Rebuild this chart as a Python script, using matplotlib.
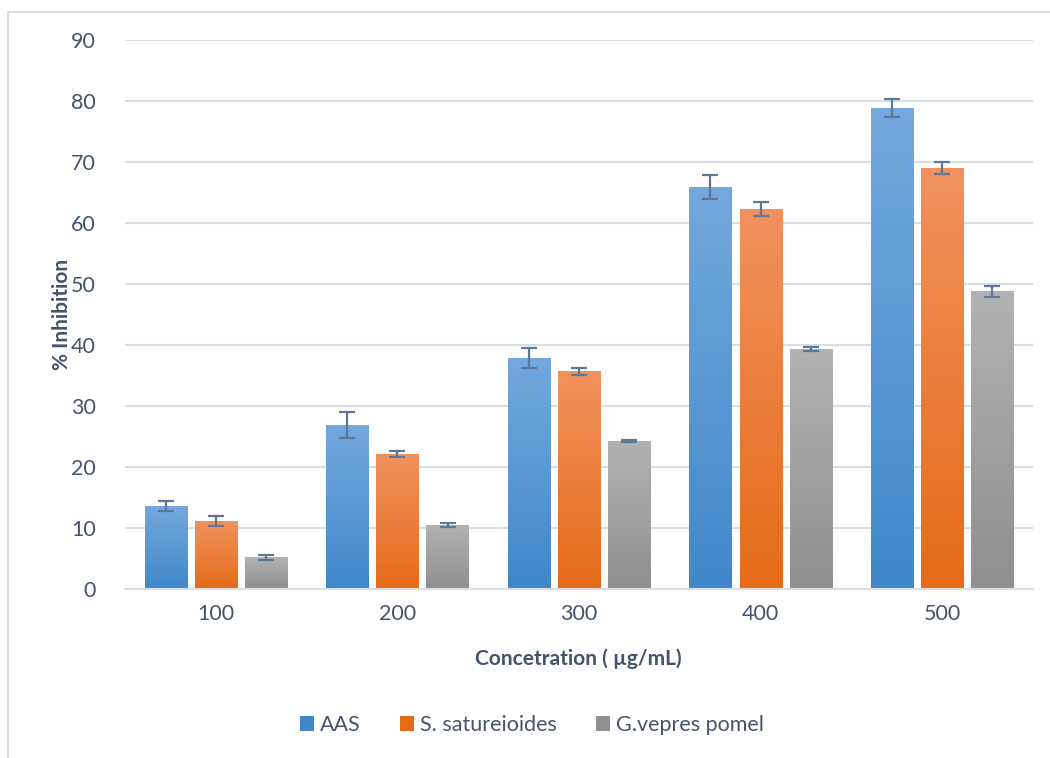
import matplotlib.pyplot as plt
import matplotlib.patches as mpatches
import numpy as np
from matplotlib.colors import LinearSegmentedColormap

# --- data ---
concentrations = ["100", "200", "300", "400", "500"]
series_names = ["AAS", "S. satureioides", "G.vepres pomel"]
aas = [13.6, 26.9, 37.9, 65.9, 78.9]
aas_err = [0.8, 2.1, 1.6, 1.9, 1.5]
sat = [11.1, 22.1, 35.7, 62.3, 69.0]
sat_err = [0.8, 0.5, 0.6, 1.1, 0.95]
gve = [5.2, 10.5, 24.3, 39.3, 48.8]
gve_err = [0.4, 0.4, 0.2, 0.3, 0.85]

# gradient top -> bottom per series
grads = [("#74A8DE", "#4088CA"), ("#F1925E", "#E56B18"), ("#B2B2B2", "#8F8F8F")]
text_col = "#44546A"
err_col = "#5E7797"

plt.rcParams['font.family'] = ['Lato', 'DejaVu Sans']

fig = plt.figure(figsize=(10.5, 7.58), dpi=100)
fig.patch.set_facecolor("white")
# outer chart frame (only left/top visible in the crop)
fig.add_artist(mpatches.Rectangle((8 / 1050, -0.1), 1.2, (758 - 12) / 758 + 0.1,
                                  transform=fig.transFigure, fill=False,
                                  edgecolor="#D9DEE5", lw=1.5))

ax = fig.add_axes([125 / 1050, 1 - 589 / 758, (1033 - 125) / 1050, (589 - 40) / 758])
x = np.arange(len(concentrations))
width = 0.232
step = 0.276

for i, (vals, errs) in enumerate([(aas, aas_err), (sat, sat_err), (gve, gve_err)]):
    pos = x + (i - 1) * step
    bars = ax.bar(pos, vals, width, color=grads[i][0], edgecolor="none", zorder=2,
                  label=series_names[i])
    cmap = LinearSegmentedColormap.from_list("g%d" % i, [grads[i][1], grads[i][0]])
    for b in bars:
        bx, by = b.get_x(), b.get_y()
        bw, bh = b.get_width(), b.get_height()
        im = ax.imshow(np.linspace(0, 1, 100).reshape(-1, 1), cmap=cmap, aspect="auto",
                       origin="lower", extent=[bx, bx + bw, by, by + bh], zorder=2.5)
        im.set_clip_path(b)
    ax.errorbar(pos, vals, yerr=errs, fmt="none", ecolor=err_col, elinewidth=1.6,
                capsize=5.5, capthick=1.6, zorder=3)

ax.set_xlim(-0.5, len(concentrations) - 0.5)
ax.set_ylim(0, 90)
ax.set_yticks(np.arange(0, 91, 10))
ax.set_xticks(x)
ax.set_xticklabels(concentrations)
ax.yaxis.grid(True, color="#D9DEE5", lw=1.5, zorder=0)
ax.set_axisbelow(True)
for s in ["top", "right", "left"]:
    ax.spines[s].set_visible(False)
ax.spines["bottom"].set_color("#D9DEE5")
ax.spines["bottom"].set_linewidth(1.5)
ax.tick_params(axis="both", length=0, labelsize=15.5, colors=text_col)
ax.tick_params(axis="y", pad=21)
ax.tick_params(axis="x", pad=11)

ax.set_ylabel("% Inhibition", fontsize=15, fontweight="bold", color=text_col)
ax.yaxis.set_label_coords((72 - 125) / 908, 0.5)
ax.set_xlabel("Concetration ( µg/mL)", fontsize=15, fontweight="bold", color=text_col)
ax.xaxis.set_label_coords(0.5 + (578 - 579) / 908, (589 - 648) / 549)

handles = [mpatches.Patch(facecolor=grads[i][1], edgecolor="none") for i in range(3)]
fig.legend(handles, series_names, loc="center", bbox_to_anchor=(532 / 1050, 1 - 725 / 758),
           ncol=3, frameon=False, fontsize=15.5, labelcolor=text_col, handlelength=0.65,
           handleheight=0.65, handletextpad=0.3, columnspacing=1.8)

fig.savefig("out.png", dpi=100, facecolor="white")
